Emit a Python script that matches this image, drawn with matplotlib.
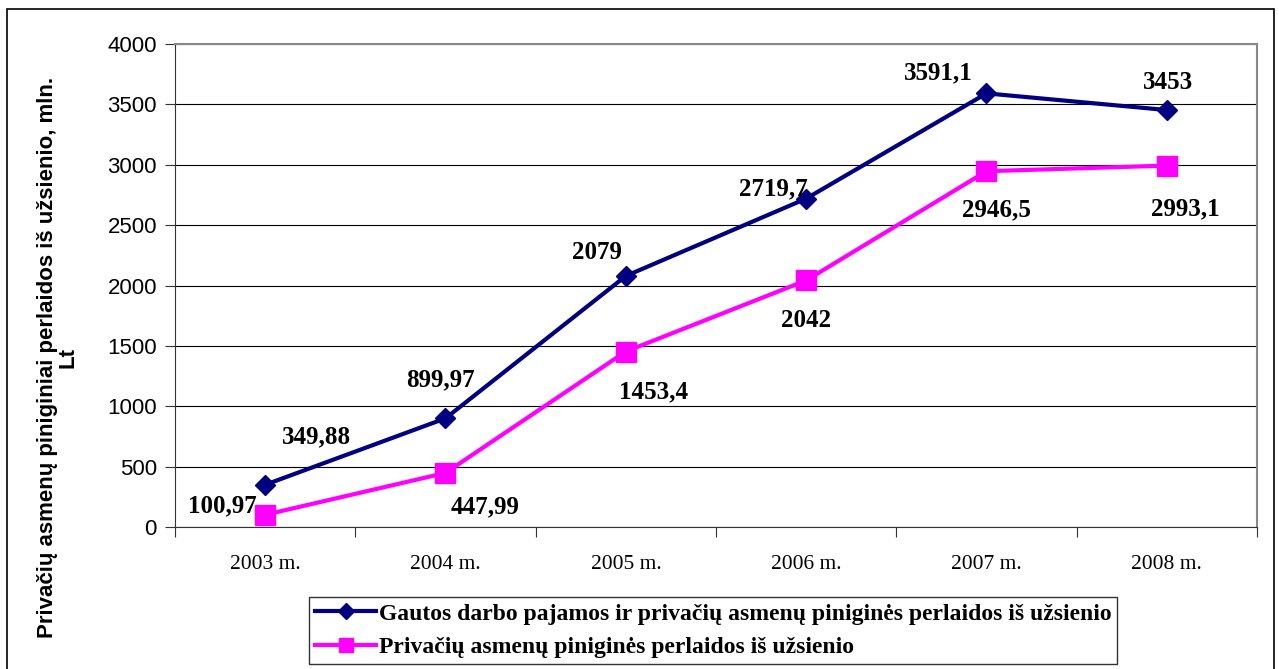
import matplotlib
matplotlib.use("Agg")
import matplotlib.pyplot as plt
from matplotlib.patches import Rectangle
from matplotlib.lines import Line2D

years = ["2003 m.", "2004 m.", "2005 m.", "2006 m.", "2007 m.", "2008 m."]
total = [349.88, 899.97, 2079, 2719.7, 3591.1, 3453]
remit = [100.97, 447.99, 1453.4, 2042, 2946.5, 2993.1]
series_names = [
    "Gautos darbo pajamos ir privačių asmenų piniginės perlaidos iš užsienio",
    "Privačių asmenų piniginės perlaidos iš užsienio",
]
y_label = "Privačių asmenų piniginiai perlaidos iš užsienio, mln.\nLt"
y_ticks = [0, 500, 1000, 1500, 2000, 2500, 3000, 3500, 4000]

# label offsets in pixels (dx, dy) relative to the point
off_total = [(51, 48), (-5, 39), (-29, 23), (-33, 10), (-48, 21), (1, 28)]
off_remit = [(-43, 9), (40, -34), (28, -40), (0, -40), (10, -39), (18, -43)]

NAVY = "#000080"
MAG = "#FF00FF"
SERIF = ["Liberation Serif", "DejaVu Serif"]
SANS = ["Liberation Sans", "DejaVu Sans"]

W, H = 1279, 669
fig = plt.figure(figsize=(W / 100, H / 100), dpi=100)
fig.patch.set_facecolor("white")

# outer frame
fig.patches.append(Rectangle((7 / W, -0.02), (1274 - 7) / W, 1 - 9 / H + 0.02,
                             transform=fig.transFigure, fill=False,
                             edgecolor="black", linewidth=1.2))

ax = fig.add_axes([175 / W, 1 - 527 / H, (1257 - 175) / W, (527 - 44) / H])
x = list(range(len(years)))

ax.plot(x, total, color=NAVY, lw=3.0, marker="D", ms=10, mec=NAVY, mfc=NAVY, zorder=3)
ax.plot(x, remit, color=MAG, lw=3.0, marker="s", ms=14, mec=MAG, mfc=MAG, zorder=3)

pt2px = 100 / 72
def fmt(v):
    return f"{v:g}".replace(".", ",")

for xi, v, (dx, dy) in zip(x, total, off_total):
    ax.annotate(fmt(v), (xi, v), xytext=(dx / pt2px, dy / pt2px), textcoords="offset points",
                ha="center", va="center", fontsize=18, fontweight="bold", family=SERIF, zorder=4)
for xi, v, (dx, dy) in zip(x, remit, off_remit):
    ax.annotate(fmt(v), (xi, v), xytext=(dx / pt2px, dy / pt2px), textcoords="offset points",
                ha="center", va="center", fontsize=18, fontweight="bold", family=SERIF, zorder=4)

ax.set_xlim(-0.5, len(years) - 0.5)
ax.set_ylim(0, 4000)
ax.set_yticks(y_ticks)
ax.set_yticklabels([str(t) for t in y_ticks], fontsize=16, family=SANS)
ax.yaxis.grid(True, color="#000000", lw=0.8)
ax.set_axisbelow(True)

ax.set_xticks([i - 0.5 for i in range(len(years) + 1)])
ax.set_xticklabels([])
ax.set_xticks(x, minor=True)
ax.set_xticklabels(years, minor=True, fontsize=15.5, family=SERIF)
ax.tick_params(axis="x", which="major", length=7, width=0.8, direction="out", color="#333333")
ax.tick_params(axis="x", which="minor", length=0, pad=20)
ax.tick_params(axis="y", length=7, width=0.8, direction="out", color="#333333", pad=6)

for s in ["top", "right"]:
    ax.spines[s].set_color("#888888")
    ax.spines[s].set_linewidth(1.5)
ax.spines["left"].set_color("#333333")
ax.spines["bottom"].set_color("#333333")

fig.text(58 / W, 1 - 357 / H, y_label, rotation=90, ha="center", va="center",
         fontsize=16, fontweight="bold", family=SANS, multialignment="center",
         linespacing=1.0)

handles = [
    Line2D([], [], color=NAVY, lw=3.0, marker="D", ms=8, mfc=NAVY, mec=NAVY),
    Line2D([], [], color=MAG, lw=3.0, marker="s", ms=10, mfc=MAG, mec=MAG),
]
leg = fig.legend(handles, series_names, loc="center", bbox_to_anchor=(713 / W, 1 - 630.5 / H),
                 prop={"family": SERIF, "weight": "bold", "size": 17},
                 frameon=True, fancybox=False, edgecolor="black", handlelength=2.6,
                 handletextpad=0.1, labelspacing=0.5, borderpad=0.25, borderaxespad=0)
leg.get_frame().set_linewidth(1.0)

fig.savefig("out.png", dpi=100)
